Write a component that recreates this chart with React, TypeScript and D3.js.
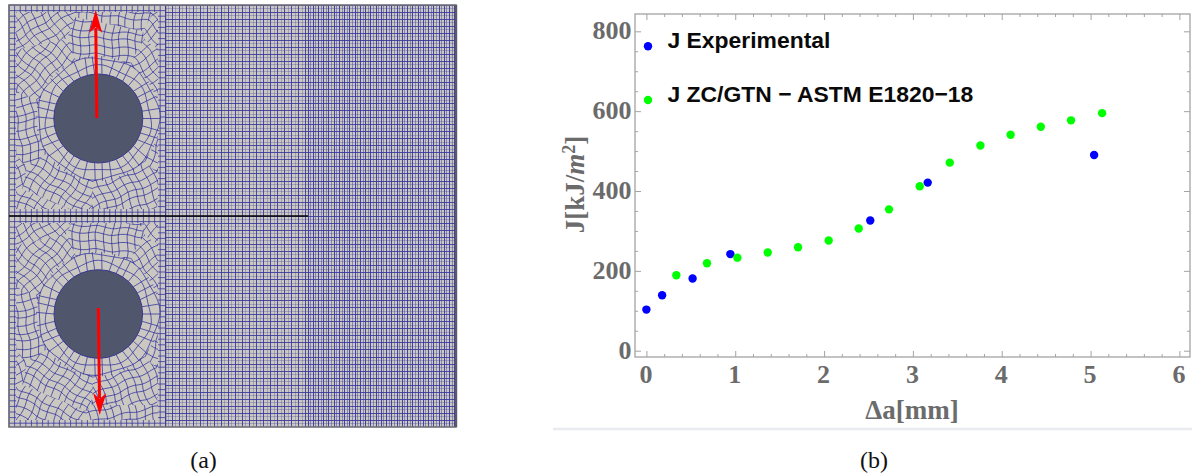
import { useEffect, useRef } from "react";
import * as d3 from "d3";

// panel (b) values
const expDa = [0, 0.177, 0.52, 0.945, 2.52, 3.167, 5.04];
const expJ = [103, 139, 181, 242, 326, 421, 490];
const simDa = [0.337, 0.682, 1.024, 1.366, 1.707, 2.052, 2.39, 2.731, 3.077, 3.415, 3.76, 4.1, 4.44, 4.78, 5.13];
const simJ = [189, 219, 233, 246, 259, 276, 306, 354, 412, 471, 514, 541, 561, 577, 595];
const xTicks = [0, 1, 2, 3, 4, 5, 6];
const yTicks = [0, 200, 400, 600, 800];
const xMinor = d3.range(0, 6.01, 0.2);
const yMinor = d3.range(0, 801, 50);
const legendLabels = ["J Experimental", "J ZC/GTN \u2212 ASTM E1820\u221218"];

// panel (a) layout
const meshBox = { x0: 9, x1: 456, y0: 5, y1: 427 };
const zoneEdges = [165, 308];
const holes = [
  { cx: 98.3, cy: 118.5, r: 44.5 },
  { cx: 98.3, cy: 314, r: 44.3 },
];
const crackY = 216;
const bandWidth = 7; // rectilinear strip along the free mesh block edges
const patchRadii = [72, 118]; // paved patches around each hole
const patchCounts = [7, 9];

const x = d3.scaleLinear().domain([0, 6]).range([646.4, 1179.4]);
const y = d3.scaleLinear().domain([0, 800]).range([350.7, 31.3]);

const MESH = "#35359f";
const PAPER = "#cbc8c2";
const AXIS = "#a3a3a3";
const LABEL = "#6b6b6b";
const SERIF = "'Liberation Serif', serif";
const SANS = "'Liberation Sans', sans-serif";

type Hole = { cx: number; cy: number; r: number };

// grid turned by angle around (ox, oy), with a little wobble so it does not look ruled
function turnedGrid(ox: number, oy: number, angle: number, step: number, ext: number) {
  const line = d3.line();
  const c = Math.cos(angle);
  const s = Math.sin(angle);
  const at = (u: number, v: number): [number, number] => {
    const wu = u + 1.1 * Math.sin(v * 0.21 + ox) + 0.7 * Math.sin(u * 0.33);
    const wv = v + 1.1 * Math.sin(u * 0.19 + oy) + 0.7 * Math.sin(v * 0.29);
    return [ox + wu * c - wv * s, oy + wu * s + wv * c];
  };
  const parts: string[] = [];
  for (const u of d3.range(-ext, ext, step)) {
    parts.push(line(d3.range(-ext, ext, 4).map((v) => at(u, v)))!);
  }
  for (const v of d3.range(-ext, ext, step)) {
    parts.push(line(d3.range(-ext, ext, 4).map((u) => at(u, v)))!);
  }
  return parts.join("");
}

function patchesFor(hole: Hole) {
  const seeds: { px: number; py: number; angle: number }[] = [];
  patchRadii.forEach((rad, k) => {
    d3.range(patchCounts[k]).forEach((i) => {
      const a = ((i + k * 0.5) / patchCounts[k]) * 2 * Math.PI + 0.3;
      seeds.push({ px: hole.cx + rad * Math.cos(a), py: hole.cy + rad * Math.sin(a), angle: a });
    });
  });
  const top = hole.cy < crackY ? meshBox.y0 : crackY;
  const bottom = hole.cy < crackY ? crackY : meshBox.y1;
  const voronoi = d3.Delaunay.from(seeds.map((s) => [s.px, s.py] as [number, number])).voronoi([
    meshBox.x0 + bandWidth,
    top + bandWidth,
    zoneEdges[0] - bandWidth,
    bottom - bandWidth,
  ]);
  return seeds.map((s, i) => ({
    cell: voronoi.renderCell(i),
    grid: turnedGrid(s.px, s.py, s.angle, 7.8, 70),
  }));
}

function edgeBand(top: number, bottom: number) {
  const parts: string[] = [];
  for (const px of d3.range(meshBox.x0, zoneEdges[0] + 1, 5.6)) parts.push(`M${px},${top}V${bottom}`);
  for (const py of d3.range(top, bottom + 1, 5.6)) parts.push(`M${meshBox.x0},${py}H${zoneEdges[0]}`);
  return parts.join("");
}

function ringMesh(hole: Hole) {
  const spokes = 38;
  const rings = [8, 16];
  const polar = (a: number, rr: number) =>
    [hole.cx + rr * Math.cos(a), hole.cy + rr * Math.sin(a)] as [number, number];
  const line = d3.line().curve(d3.curveCatmullRomClosed);
  const parts: string[] = [];
  rings.forEach((dr, k) => {
    const pts = d3.range(spokes).map((i) => {
      const a = (i / spokes) * 2 * Math.PI;
      return polar(a, hole.r + dr + 1.5 * Math.sin(a * 7 + k * 2));
    });
    parts.push(line(pts)!);
  });
  d3.range(spokes).forEach((i) => {
    const a = (i / spokes) * 2 * Math.PI;
    const p0 = polar(a, hole.r);
    const p1 = polar(a + 0.035 * Math.sin(i * 1.7), hole.r + 18);
    parts.push(`M${p0[0]},${p0[1]}L${p1[0]},${p1[1]}`);
  });
  return parts.join("");
}

function arrowHead(tip: [number, number], dir: number, halfW: number, len: number) {
  const path = d3.path();
  path.moveTo(tip[0], tip[1]);
  path.lineTo(tip[0] + halfW, tip[1] + dir * len);
  path.lineTo(tip[0], tip[1] + dir * (len - 6));
  path.lineTo(tip[0] - halfW, tip[1] + dir * len);
  path.closePath();
  return path.toString();
}

const holePatches = holes.map(patchesFor);

export default function App() {
  const axesRef = useRef<SVGGElement>(null);

  useEffect(() => {
    const g = d3.select(axesRef.current);
    g.selectAll("*").remove();
    const frame = { left: 635, right: 1190, top: 14, bottom: 357 };

    const ticks = (axis: d3.Axis<number>, tx: number, ty: number) => {
      const a = g.append("g").attr("transform", `translate(${tx},${ty})`).call(axis as any);
      a.select(".domain").remove();
      a.selectAll("line").attr("stroke", "#8c8c8c").attr("stroke-width", 0.8);
    };
    const xm = xMinor.filter((d) => Math.abs(d - Math.round(d)) > 0.01);
    const ym = yMinor.filter((d) => d % 200 !== 0);

    ticks(d3.axisBottom<number>(x).tickValues(xTicks).tickSize(-6).tickFormat(() => ""), 0, frame.bottom);
    ticks(d3.axisBottom<number>(x).tickValues(xm).tickSize(-3).tickFormat(() => ""), 0, frame.bottom);
    ticks(d3.axisTop<number>(x).tickValues(xTicks).tickSize(-6).tickFormat(() => ""), 0, frame.top);
    ticks(d3.axisTop<number>(x).tickValues(xm).tickSize(-3).tickFormat(() => ""), 0, frame.top);
    ticks(d3.axisLeft<number>(y).tickValues(yTicks).tickSize(-6).tickFormat(() => ""), frame.left, 0);
    ticks(d3.axisLeft<number>(y).tickValues(ym).tickSize(-3).tickFormat(() => ""), frame.left, 0);
    ticks(d3.axisRight<number>(y).tickValues(yTicks).tickSize(-6).tickFormat(() => ""), frame.right, 0);
    ticks(d3.axisRight<number>(y).tickValues(ym).tickSize(-3).tickFormat(() => ""), frame.right, 0);

    g.append("rect")
      .attr("x", frame.left)
      .attr("y", frame.top)
      .attr("width", frame.right - frame.left)
      .attr("height", frame.bottom - frame.top)
      .attr("fill", "none")
      .attr("stroke", AXIS)
      .attr("stroke-width", 1.3);
  }, []);

  const midX = d3.range(zoneEdges[0], zoneEdges[1], 3.52);
  const denseX = d3.range(zoneEdges[1], meshBox.x1, 2.62);
  const rowsY = d3.range(meshBox.y0, meshBox.y1, 3.52);

  return (
    <svg
      width={1192}
      height={475}
      style={{ position: "absolute", left: 0, top: 0, display: "block", background: "#fff" }}
    >
      <defs>
        {holePatches.map((patches, i) =>
          patches.map((p, k) => (
            <clipPath key={`${i}-${k}`} id={`cell-${i}-${k}`}>
              <path d={p.cell} />
            </clipPath>
          ))
        )}
      </defs>

      {/* (a) mesh */}
      <rect
        x={meshBox.x0}
        y={meshBox.y0}
        width={meshBox.x1 - meshBox.x0}
        height={meshBox.y1 - meshBox.y0}
        fill={PAPER}
      />
      <g stroke={MESH} strokeWidth={1} fill="none" strokeOpacity={0.78}>
        {holes.map((_, i) => {
          const top = i === 0 ? meshBox.y0 : crackY;
          const bottom = i === 0 ? crackY : meshBox.y1;
          return (
            <g key={i}>
              <path d={edgeBand(top, bottom)} />
              <rect
                x={meshBox.x0 + bandWidth}
                y={top + bandWidth}
                width={zoneEdges[0] - meshBox.x0 - 2 * bandWidth}
                height={bottom - top - 2 * bandWidth}
                fill={PAPER}
                stroke="none"
              />
              {holePatches[i].map((p, k) => (
                <g key={k} clipPath={`url(#cell-${i}-${k})`}>
                  <path d={p.grid} />
                </g>
              ))}
            </g>
          );
        })}
      </g>
      <g stroke={MESH} strokeWidth={1}>
        {midX.map((px, i) => (
          <line key={`m${i}`} x1={px} x2={px} y1={meshBox.y0} y2={meshBox.y1} strokeOpacity={i % 2 === 0 ? 0.85 : 0.28} shapeRendering="crispEdges" />
        ))}
        {denseX.map((px, i) => (
          <line key={`d${i}`} x1={px} x2={px} y1={meshBox.y0} y2={meshBox.y1} strokeOpacity={i % 2 === 0 ? 0.9 : 0.45} shapeRendering="crispEdges" />
        ))}
        {rowsY.map((py, i) => (
          <line key={`r${i}`} x1={zoneEdges[0]} x2={meshBox.x1} y1={py} y2={py} strokeOpacity={i % 2 === 0 ? 0.85 : 0.28} shapeRendering="crispEdges" />
        ))}
      </g>
      {holes.map((h, i) => (
        <g key={i}>
          <circle cx={h.cx} cy={h.cy} r={h.r + 17} fill={PAPER} />
          <path d={ringMesh(h)} fill="none" stroke={MESH} strokeWidth={1} strokeOpacity={0.78} />
          <circle cx={h.cx} cy={h.cy} r={h.r} fill="#50566c" stroke="#38388f" strokeWidth={1} />
        </g>
      ))}
      <rect
        x={meshBox.x0}
        y={meshBox.y0}
        width={meshBox.x1 - meshBox.x0}
        height={meshBox.y1 - meshBox.y0}
        fill="none"
        stroke="#70707a"
        strokeWidth={1.6}
      />
      <line x1={meshBox.x1} x2={meshBox.x1} y1={meshBox.y0} y2={meshBox.y1} stroke="#5a5a64" strokeWidth={2.4} />
      <line x1={meshBox.x0} x2={zoneEdges[1]} y1={crackY} y2={crackY} stroke="#000" strokeWidth={1.6} />

      {/* load arrows */}
      <line x1={96.8} y1={118} x2={95.8} y2={28} stroke="#f00" strokeWidth={3} />
      <path d={arrowHead([95.7, 10], 1, 6.6, 23)} fill="#f00" />
      <line x1={98.3} y1={308} x2={99.5} y2={398} stroke="#f00" strokeWidth={3} />
      <path d={arrowHead([99.7, 415], -1, 6.6, 22)} fill="#f00" />

      <text x={203.5} y={468} textAnchor="middle" fontFamily={SERIF} fontSize={24} fill="#111">(a)</text>

      {/* (b) plot */}
      <rect x={553} y={427.7} width={639} height={2.6} fill="#e9ebee" />
      <g ref={axesRef} />

      {yTicks.map((t) => (
        <text key={t} x={631.5} y={y(t) + 8} textAnchor="end" fontFamily={SERIF} fontWeight="bold" fontSize={26} fill={LABEL}>
          {t}
        </text>
      ))}
      {xTicks.map((t) => (
        <text key={t} x={x(t) - 0.5} y={383} textAnchor="middle" fontFamily={SERIF} fontWeight="bold" fontSize={26} fill={LABEL}>
          {t}
        </text>
      ))}
      <text x={912} y={419} textAnchor="middle" fontFamily={SERIF} fontWeight="bold" fontSize={27} fill={LABEL}>
        {"\u0394a[mm]"}
      </text>
      <text
        transform="translate(584,184.5) rotate(-90)"
        textAnchor="middle"
        fontFamily={SERIF}
        fontWeight="bold"
        fontSize={27}
        fill={LABEL}
      >
        J[kJ/<tspan fontStyle="italic">m</tspan>
        <tspan dy={-9} fontSize={18}>2</tspan>
        <tspan dy={9}>]</tspan>
      </text>

      {expDa.map((d, i) => (
        <circle key={`e${i}`} cx={x(d)} cy={y(expJ[i])} r={4.2} fill="#0000ff" />
      ))}
      {simDa.map((d, i) => (
        <circle key={`s${i}`} cx={x(d)} cy={y(simJ[i])} r={4.2} fill="#00ff00" />
      ))}

      {/* legend */}
      <circle cx={648} cy={46.3} r={4.2} fill="#0000ff" />
      <circle cx={648} cy={100} r={4.2} fill="#00ff00" />
      {legendLabels.map((label, i) => (
        <text key={label} x={667.5} y={i === 0 ? 47.7 : 101.7} fontFamily={SANS} fontWeight="bold" fontSize={22.9} fill="#0a0a0a">
          {label}
        </text>
      ))}

      <text x={874} y={468} textAnchor="middle" fontFamily={SERIF} fontSize={24} fill="#111">(b)</text>
    </svg>
  );
}
